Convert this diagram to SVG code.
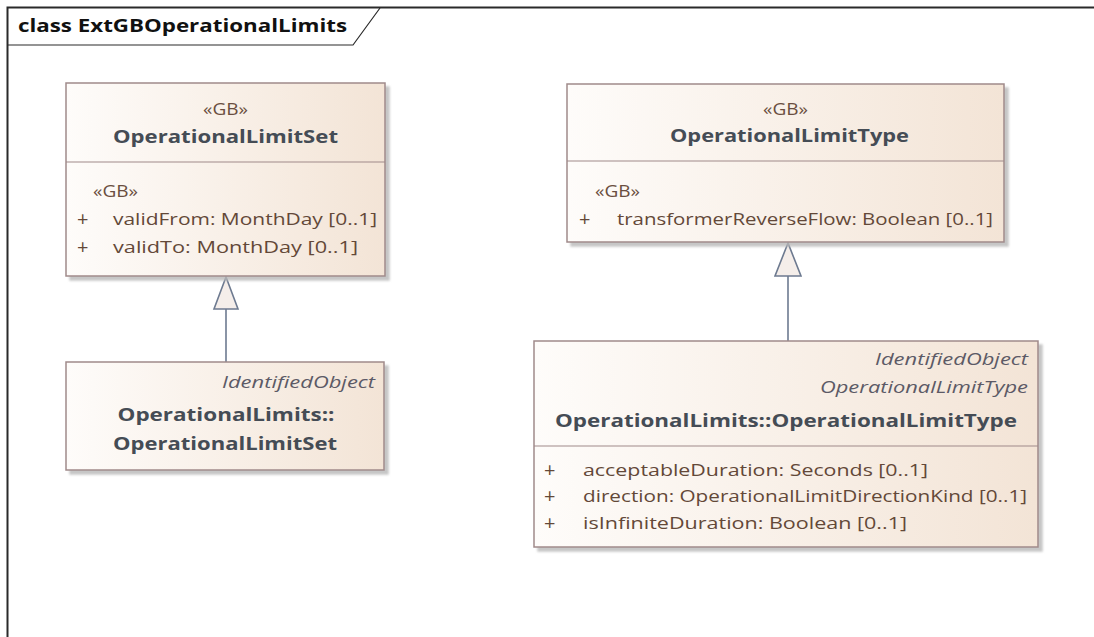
<svg xmlns="http://www.w3.org/2000/svg" width="1094" height="637" viewBox="0 0 1094 637">
<defs>
<linearGradient id="fillg" x1="0" y1="0" x2="1" y2="0">
<stop offset="0" stop-color="#fefcfa"/>
<stop offset="1" stop-color="#f3e4d6"/>
</linearGradient>
<filter id="sh" x="-5%" y="-5%" width="115%" height="120%">
<feOffset dx="4" dy="4" in="SourceAlpha" result="o"/>
<feFlood flood-color="#b8b8b8" flood-opacity="0.8"/>
<feComposite in2="o" operator="in" result="s"/>
<feGaussianBlur in="s" stdDeviation="0.8" result="b"/>
<feMerge><feMergeNode in="b"/><feMergeNode in="SourceGraphic"/></feMerge>
</filter>
</defs>
<style>
.box{fill:url(#fillg);stroke:#a08a8a;stroke-width:1.5;filter:url(#sh)}
.div{stroke:#a08a8a;stroke-width:1.2}
text{font-family:"Open Sans","Noto Sans","DejaVu Sans",sans-serif}
.st{font-size:16.5px;fill:#6a4e40}
.nm{font-size:18px;font-weight:bold;fill:#454c55}
.at{font-size:17px;fill:#634838}
.pl{font-size:20px;fill:#634838}
.it{font-size:17px;font-style:italic;fill:#5c5a66}
.title{font-size:17px;font-weight:bold;fill:#111}
.edge{stroke:#6d7a90;stroke-width:1.6;fill:none}
.head{fill:#f5eeea;stroke:#6d7a90;stroke-width:1.6}
</style>
<rect x="0" y="0" width="1094" height="637" fill="#ffffff"/>
<g id="frame">
<path d="M7.5 637 V7.5 H1094" fill="none" stroke="#2a2a2a" stroke-width="2"/>
<path d="M7.5 45 H353 L380 8" fill="none" stroke="#2a2a2a" stroke-width="1.2"/>
<text class="title" x="18" y="32" textLength="329" lengthAdjust="spacingAndGlyphs">class ExtGBOperationalLimits</text>
</g>
<g id="connectors">
<line class="edge" x1="226" y1="309" x2="226" y2="362"/>
<polygon class="head" points="226,277 214,309 238,309"/>
<line class="edge" x1="788" y1="276" x2="788" y2="341"/>
<polygon class="head" points="788,243 775,276 801,276"/>
</g>
<g id="OperationalLimitSet">
<rect class="box" x="66" y="83" width="319" height="193"/>
<line class="div" x1="66" y1="162" x2="385" y2="162"/>
<text class="st" x="225.5" y="115" text-anchor="middle" textLength="45" lengthAdjust="spacingAndGlyphs">«GB»</text>
<text class="nm" x="225.5" y="143" text-anchor="middle" textLength="225" lengthAdjust="spacingAndGlyphs">OperationalLimitSet</text>
<text class="st" x="93" y="197" textLength="45" lengthAdjust="spacingAndGlyphs">«GB»</text>
<text class="pl" x="77" y="226">+</text>
<text class="at" x="113" y="225" textLength="264" lengthAdjust="spacingAndGlyphs">validFrom: MonthDay [0..1]</text>
<text class="pl" x="77" y="254">+</text>
<text class="at" x="113" y="253" textLength="245" lengthAdjust="spacingAndGlyphs">validTo: MonthDay [0..1]</text>
</g>
<g id="OperationalLimits_OperationalLimitSet">
<rect class="box" x="66" y="362" width="318" height="108"/>
<text class="it" x="375" y="388" text-anchor="end" textLength="153" lengthAdjust="spacingAndGlyphs">IdentifiedObject</text>
<text class="nm" x="226" y="421" text-anchor="middle" textLength="217" lengthAdjust="spacingAndGlyphs">OperationalLimits::</text>
<text class="nm" x="225" y="450" text-anchor="middle" textLength="224" lengthAdjust="spacingAndGlyphs">OperationalLimitSet</text>
</g>
<g id="OperationalLimitType">
<rect class="box" x="567" y="84" width="437" height="158"/>
<line class="div" x1="567" y1="161" x2="1004" y2="161"/>
<text class="st" x="785.5" y="115" text-anchor="middle" textLength="45" lengthAdjust="spacingAndGlyphs">«GB»</text>
<text class="nm" x="789.5" y="142" text-anchor="middle" textLength="239" lengthAdjust="spacingAndGlyphs">OperationalLimitType</text>
<text class="st" x="595" y="197" textLength="45" lengthAdjust="spacingAndGlyphs">«GB»</text>
<text class="pl" x="579" y="226">+</text>
<text class="at" x="617" y="225" textLength="376" lengthAdjust="spacingAndGlyphs">transformerReverseFlow: Boolean [0..1]</text>
</g>
<g id="OperationalLimits_OperationalLimitType">
<rect class="box" x="534" y="341" width="504" height="206"/>
<line class="div" x1="534" y1="446" x2="1038" y2="446"/>
<text class="it" x="1028" y="365" text-anchor="end" textLength="153" lengthAdjust="spacingAndGlyphs">IdentifiedObject</text>
<text class="it" x="1028" y="393" text-anchor="end" textLength="208" lengthAdjust="spacingAndGlyphs">OperationalLimitType</text>
<text class="nm" x="786" y="427" text-anchor="middle" textLength="462" lengthAdjust="spacingAndGlyphs">OperationalLimits::OperationalLimitType</text>
<text class="pl" x="544" y="477">+</text>
<text class="at" x="583" y="476" textLength="345" lengthAdjust="spacingAndGlyphs">acceptableDuration: Seconds [0..1]</text>
<text class="pl" x="544" y="503">+</text>
<text class="at" x="583" y="502" textLength="444" lengthAdjust="spacingAndGlyphs">direction: OperationalLimitDirectionKind [0..1]</text>
<text class="pl" x="544" y="530">+</text>
<text class="at" x="583" y="529" textLength="324" lengthAdjust="spacingAndGlyphs">isInfiniteDuration: Boolean [0..1]</text>
</g>
</svg>
